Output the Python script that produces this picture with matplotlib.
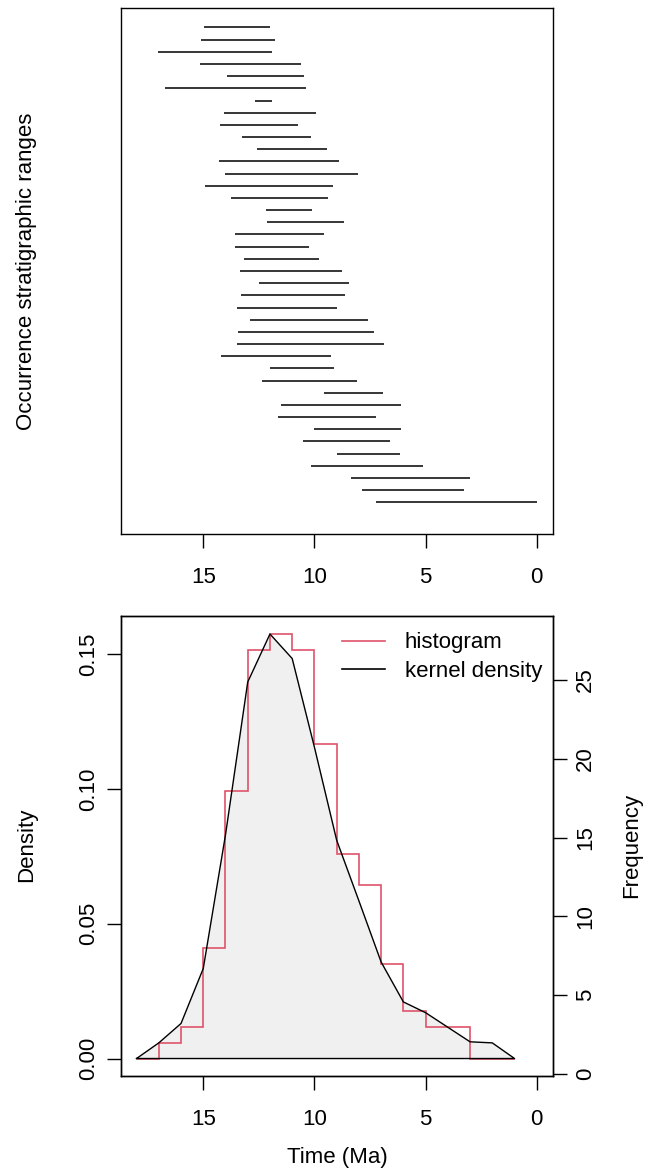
import numpy as np
import matplotlib.pyplot as plt

plt.rcParams['font.family'] = ['Liberation Sans', 'DejaVu Sans']
plt.rcParams['font.size'] = 16

# Occurrence ranges (Ma), listed top to bottom
fad = [14.96, 15.12, 17.03, 15.15, 13.91, 16.73, 12.68, 14.07, 14.25, 13.28,
       12.57, 14.30, 14.04, 14.94, 13.77, 12.17, 12.14, 13.59, 13.58, 13.17,
       13.34, 12.48, 13.31, 13.47, 12.90, 13.44, 13.50, 14.21, 11.99, 12.38,
       9.56, 11.51, 11.66, 10.04, 10.52, 8.99, 10.16, 8.36, 7.86, 7.22]
lad = [11.99, 11.79, 11.90, 10.61, 10.49, 10.40, 11.91, 9.92, 10.73, 10.14,
       9.44, 8.91, 8.06, 9.15, 9.38, 10.13, 8.67, 9.57, 10.23, 9.81,
       8.75, 8.43, 8.63, 8.99, 7.58, 7.32, 6.86, 9.27, 9.11, 8.10,
       6.90, 6.12, 7.22, 6.09, 6.59, 6.17, 5.10, 2.99, 3.27, 0.00]

# histogram (density), bins of 1 Myr from 1 to 18 Ma
bin_edges = [1, 2, 3, 4, 5, 6, 7, 8, 9, 10, 11, 12, 13, 14, 15, 16, 17, 18]
hist_density = [0.0, 0.0, 0.0118, 0.0118, 0.0176, 0.0351, 0.0643, 0.0758,
                0.1167, 0.1516, 0.1575, 0.1516, 0.0992, 0.0409, 0.0118,
                0.0058, 0.0]

# kernel density evaluated at whole Ma
kde_time = [18, 17, 16, 15, 14, 13, 12, 11, 10, 9, 8, 7, 6, 5, 4, 3, 2, 1]
kde_density = [0.0, 0.0058, 0.013, 0.0334, 0.083, 0.1397, 0.1575, 0.1484,
               0.1155, 0.081, 0.0585, 0.0358, 0.021, 0.017, 0.0116, 0.0062,
               0.0058, 0.0]

time_ticks = [15, 10, 5, 0]
dens_ticks = [0.0, 0.05, 0.10, 0.15]
dens_labels = ['0.00', '0.05', '0.10', '0.15']
freq_ticks = [0, 5, 10, 15, 20, 25]

red = '#DF536B'
W, H = 659, 1168
fig = plt.figure(figsize=(W / 100, H / 100), dpi=100)

# ---- top panel: stratigraphic ranges
ax1 = fig.add_axes([121 / W, 1 - 534 / H, 432 / W, 526 / H])
n = len(fad)
ypos = np.arange(n, 0, -1)
ax1.hlines(ypos, lad, fad, color='black', lw=1.1)
ax1.set_xlim(18.70, -0.73)
ax1.set_ylim(-1.6, 41.6)
ax1.set_xticks(time_ticks)
ax1.set_yticks([])
ax1.tick_params(axis='x', length=9.9, width=1, pad=14)

# ---- bottom panel: histogram + kernel density
ax2 = fig.add_axes([121 / W, 1 - 1075.5 / H, 432 / W, 459.8 / H])
ax2.fill_between(kde_time, kde_density, 0, color='#F0F0F0', lw=0)
ax2.plot(kde_time + [kde_time[0]], kde_density + [kde_density[0]],
         color='black', lw=1.0)
ax2.stairs(hist_density, bin_edges, color=red, lw=1.2, label='histogram')
ax2.plot([], [], color='black', lw=1.0, label='kernel density')
ax2.set_xlim(18.70, -0.73)
ax2.set_ylim(-0.0063, 0.1643)
ax2.set_xticks(time_ticks)
ax2.set_yticks(dens_ticks, dens_labels)
ax2.tick_params(axis='x', length=9.9, width=1, pad=14)
ax2.tick_params(axis='y', length=9.9, width=1, pad=6, labelrotation=90)
for t in ax2.get_yticklabels():
    t.set_va('center')
leg = ax2.legend(loc='upper right', frameon=False, handlelength=1.9,
                 handletextpad=0.9, labelspacing=0.33, borderaxespad=0,
                 borderpad=0.5, bbox_to_anchor=(1.0, 0.988))
for h in leg.get_lines():
    h.set_linewidth(1.2)

ax3 = ax2.twinx()
ax3.set_ylim(-0.11, 29.09)
ax3.set_yticks(freq_ticks)
ax3.tick_params(axis='y', length=9.9, width=1, pad=6, labelrotation=90)
for t in ax3.get_yticklabels():
    t.set_va('center')

for ax in (ax1, ax2, ax3):
    for s in ax.spines.values():
        s.set_linewidth(1.0)

fig.text(27 / W, 1 - 271 / H, 'Occurrence stratigraphic ranges',
         rotation=90, ha='center', va='center')
fig.text(27 / W, 1 - 845 / H, 'Density', rotation=90, ha='center', va='center')
fig.text(632 / W, 1 - 845 / H, 'Frequency', rotation=90, ha='center', va='center')
fig.text(337 / W, 1 - 1163 / H, 'Time (Ma)', ha='center', va='baseline')

fig.savefig('out.png', dpi=100)
